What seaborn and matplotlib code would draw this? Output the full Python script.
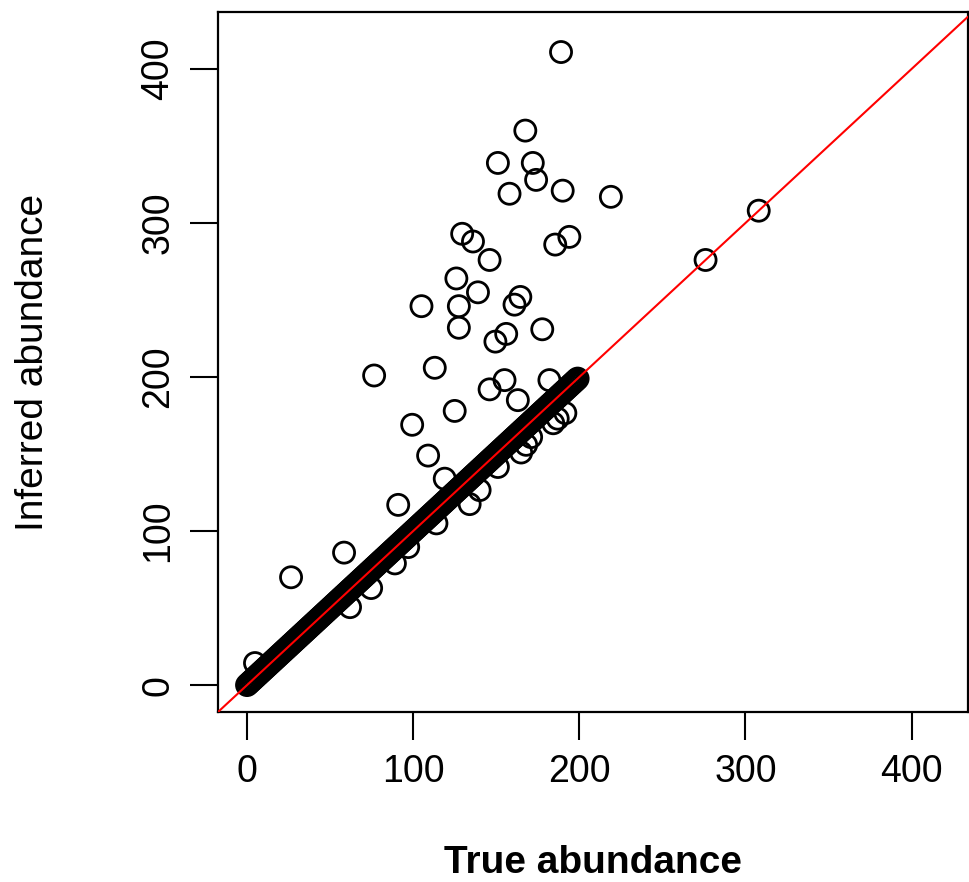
import numpy as np
import pandas as pd
import matplotlib
matplotlib.use("Agg")
import matplotlib.pyplot as plt
import seaborn as sns

# points lying on the diagonal band (inferred == true)
band_values = [
    0, 1, 2, 3, 4, 5, 6, 7, 8, 9, 10, 11, 12, 13, 14, 15, 16, 17, 18, 19,
    20, 21, 22, 23, 24, 25, 26, 27, 28, 29, 30, 31, 32, 33, 34, 35, 36, 37, 38, 39,
    40, 41, 42, 43, 44, 45, 46, 47, 48, 49, 50, 51, 52, 53, 54, 55, 56, 57, 58, 59,
    60, 61, 62, 63, 64, 65, 66, 67, 68, 69, 70, 71, 72, 73, 74, 75, 76, 77, 78, 79,
    80, 81, 82, 83, 84, 85, 86, 87, 88, 89, 90, 91, 92, 93, 94, 95, 96, 97, 98, 99,
    100, 101, 102, 103, 104, 105, 106, 107, 108, 109, 110, 111, 112, 113, 114, 115,
    116, 117, 118, 119, 120, 121, 122, 123, 124, 125, 126, 127, 128, 129, 130, 131,
    132, 133, 134, 135, 136, 137, 138, 139, 140, 141, 142, 143, 144, 145, 146, 147,
    148, 149, 150, 151, 152, 153, 154, 155, 156, 157, 158, 159, 160, 161, 162, 163,
    164, 165, 166, 167, 168, 169, 170, 171, 172, 173, 174, 175, 176, 177, 178, 179,
    180, 181, 182, 183, 184, 185, 186, 187, 188, 189, 190, 191, 192, 193, 194, 195,
    196, 197, 198, 199, 276, 308,
]

# points clearly off the diagonal
off_true = [
    189, 167.5, 151, 172, 174, 158, 190, 219, 129.5, 136, 194, 185.5, 146, 126,
    105, 139, 127.5, 164.5, 161, 127.5, 156, 149.5, 177.7, 113, 76.5, 155, 182,
    146, 163, 125, 99.4, 109, 119, 91, 58.4, 26.5,
    191.6, 184.3, 187, 165, 171, 168, 140, 134, 114, 97, 89, 74.7, 62, 151, 4.8,
]
off_inferred = [
    411, 360, 339, 339, 328, 319, 321, 317, 293, 288, 291, 286, 276, 264,
    246, 255, 246, 252, 247, 232, 228, 223, 231, 206, 201, 198, 198,
    192, 185, 178, 169, 149, 134, 117, 86, 70,
    176.6, 170, 173, 151, 161, 156, 126.6, 117.5, 105, 89.6, 79, 63, 50.6, 141.6, 14.3,
]

df = pd.DataFrame({
    "true": band_values + off_true,
    "inferred": band_values + off_inferred,
})

sns.set_style("ticks")
plt.rcParams["font.family"] = ["Liberation Sans", "DejaVu Sans"]
plt.rcParams["text.color"] = "black"
plt.rcParams["axes.labelcolor"] = "black"
plt.rcParams["xtick.color"] = "black"
plt.rcParams["ytick.color"] = "black"

fig = plt.figure(figsize=(9.7, 8.82), dpi=100)
ax = fig.add_axes([0.2247, 0.1927, 0.7733, 0.7937])

sns.scatterplot(data=df, x="true", y="inferred", ax=ax, s=230, marker="o",
                facecolors="none", edgecolors="black", linewidths=2.0)
ax.axline((0, 0), slope=1, color="red", lw=1.5, zorder=5)

ax.set_xlim(-17.5, 434)
ax.set_ylim(-17.5, 437)
ax.set_xticks([0, 100, 200, 300, 400])
ax.set_yticks([0, 100, 200, 300, 400])
ax.tick_params(axis="both", length=20, width=1.5, labelsize=27, pad=10)
for lab in ax.get_yticklabels():
    lab.set_rotation(90)
    lab.set_va("center")
for sp in ax.spines.values():
    sp.set_visible(True)
    sp.set_linewidth(1.6)
    sp.set_color("black")

ax.set_xlabel("True abundance", fontsize=28, fontweight="bold", labelpad=40)
ax.set_ylabel("Inferred abundance", fontsize=28, labelpad=64)

fig.savefig("out.png", dpi=100)
